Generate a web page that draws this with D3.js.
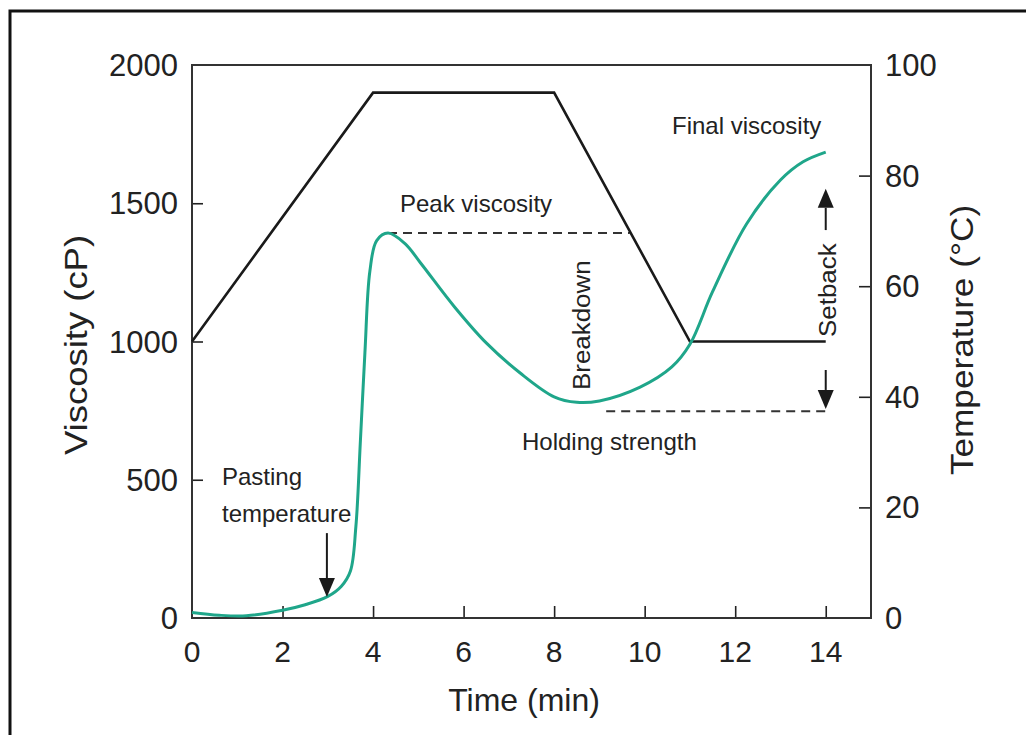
<!DOCTYPE html>
<html>
<head>
<meta charset="utf-8">
<script src="https://cdn.jsdelivr.net/npm/d3@7"></script>
<style>
  body { margin: 0; background: #fff; }
  svg { display: block; font-family: "Liberation Sans", Arial, sans-serif; }
</style>
</head>
<body>
<script>
// Data
var timeTicks = [2, 4, 6, 8, 10, 12, 14];
var timeLabels = [0, 2, 4, 6, 8, 10, 12, 14];
var viscTicks = [500, 1000, 1500];
var viscLabels = [0, 500, 1000, 1500, 2000];
var tempTicks = [20, 40, 60, 80];
var tempLabels = [0, 20, 40, 60, 80, 100];

// temperature profile (black)
var tempTime = [0, 4, 8, 11, 14];
var tempValues = [50, 95, 95, 50, 50];

// viscosity curve (green)
var viscTime = [0, 0.6, 1.2, 2, 2.5, 3, 3.3, 3.5, 3.62, 3.72, 3.82, 3.93, 4.08, 4.33, 4.7, 5.05, 5.8, 6.5, 7.25, 8.0, 8.5, 9.0, 9.9, 10.6, 11, 11.5, 12.25, 13, 13.5, 14];
var viscValues = [20, 10, 8, 28, 48, 78, 115, 170, 330, 640, 960, 1255, 1365, 1392, 1355, 1284, 1125, 995, 886, 800, 780, 785, 835, 908, 990, 1180, 1425, 1584, 1650, 1685];

// annotation values
var peakLevel = 1392, peakStart = 4.33, peakEnd = 9.67;
var holdLevel = 748, holdStart = 9.15, holdEnd = 14.05;

var width = 1026, height = 735;
var svg = d3.select("body").append("svg")
    .attr("width", width)
    .attr("height", height);

// outer frame
svg.append("rect")
    .attr("x", 10).attr("y", 11)
    .attr("width", 1040).attr("height", 760)
    .attr("fill", "none").attr("stroke", "#111").attr("stroke-width", 3);

var x = d3.scaleLinear().domain([0, 15]).range([192, 871]);
var yV = d3.scaleLinear().domain([0, 2000]).range([618, 65]);
var yT = d3.scaleLinear().domain([0, 100]).range([618, 65]);

var ink = "#222";

// ticks (inward)
svg.append("g")
    .attr("transform", "translate(0,618)")
    .call(d3.axisBottom(x).tickValues(timeTicks).tickSize(-12).tickFormat(""))
    .call(g => g.select(".domain").remove())
    .selectAll("line").attr("stroke", ink).attr("stroke-width", 1.6);

svg.append("g")
    .attr("transform", "translate(192,0)")
    .call(d3.axisLeft(yV).tickValues(viscTicks).tickSize(-11).tickFormat(""))
    .call(g => g.select(".domain").remove())
    .selectAll("line").attr("stroke", ink).attr("stroke-width", 1.6);

svg.append("g")
    .attr("transform", "translate(871,0)")
    .call(d3.axisRight(yT).tickValues(tempTicks).tickSize(-12).tickFormat(""))
    .call(g => g.select(".domain").remove())
    .selectAll("line").attr("stroke", ink).attr("stroke-width", 1.6);

// plot box
svg.append("rect")
    .attr("x", x(0)).attr("y", yV(2000))
    .attr("width", x(15) - x(0)).attr("height", yV(0) - yV(2000))
    .attr("fill", "none").attr("stroke", "#333").attr("stroke-width", 2);

// tick labels
svg.append("g").selectAll("text")
    .data(timeLabels).enter().append("text")
    .attr("x", d => x(d)).attr("y", 662)
    .attr("text-anchor", "middle")
    .attr("font-size", 30).attr("fill", ink)
    .text(d => d);

svg.append("g").selectAll("text")
    .data(viscLabels).enter().append("text")
    .attr("x", 178).attr("y", d => yV(d) + 11)
    .attr("text-anchor", "end")
    .attr("font-size", 31).attr("fill", ink)
    .text(d => d);

svg.append("g").selectAll("text")
    .data(tempLabels).enter().append("text")
    .attr("x", 885).attr("y", d => yT(d) + 11)
    .attr("text-anchor", "start")
    .attr("font-size", 31).attr("fill", ink)
    .text(d => d);

// axis titles
svg.append("text")
    .attr("x", 524).attr("y", 711)
    .attr("text-anchor", "middle")
    .attr("font-size", 32).attr("fill", ink)
    .text("Time (min)");

svg.append("text")
    .attr("transform", "translate(87,345) scale(1,1.14) rotate(-90)")
    .attr("text-anchor", "middle")
    .attr("font-size", 32).attr("fill", ink)
    .text("Viscosity (cP)");

svg.append("text")
    .attr("transform", "translate(973,340) scale(1,1.1) rotate(-90)")
    .attr("text-anchor", "middle")
    .attr("font-size", 32).attr("fill", ink)
    .text("Temperature (°C)");

// dashed reference lines
svg.append("line")
    .attr("x1", x(peakStart)).attr("x2", x(peakEnd))
    .attr("y1", yV(peakLevel)).attr("y2", yV(peakLevel))
    .attr("stroke", "#333").attr("stroke-width", 2).attr("stroke-dasharray", "9,6");

svg.append("line")
    .attr("x1", x(holdStart)).attr("x2", x(holdEnd))
    .attr("y1", yV(holdLevel)).attr("y2", yV(holdLevel))
    .attr("stroke", "#333").attr("stroke-width", 2).attr("stroke-dasharray", "9,6");

// temperature line
var tempLine = d3.line()
    .x((d, i) => x(tempTime[i]))
    .y(d => yT(d));

svg.append("path")
    .datum(tempValues)
    .attr("d", tempLine)
    .attr("fill", "none").attr("stroke", "#1a1a1a").attr("stroke-width", 2.6);

// viscosity curve
var viscLine = d3.line()
    .x((d, i) => x(viscTime[i]))
    .y(d => yV(d))
    .curve(d3.curveCatmullRom.alpha(0.5));

svg.append("path")
    .datum(viscValues)
    .attr("d", viscLine)
    .attr("fill", "none").attr("stroke", "#1fa68a").attr("stroke-width", 3);

// arrows: shaft + filled head, from v0 to tip v1 at time t
function drawArrow(t, v0, v1) {
    var px = x(t), py0 = yV(v0), py1 = yV(v1);
    var dir = py1 > py0 ? 1 : -1;
    var headH = 19, headW = 8;
    svg.append("line")
        .attr("x1", px).attr("x2", px)
        .attr("y1", py0).attr("y2", py1 - dir * headH)
        .attr("stroke", "#1a1a1a").attr("stroke-width", 2);
    svg.append("path")
        .attr("d", "M" + (px - headW) + "," + (py1 - dir * headH) +
                   "L" + (px + headW) + "," + (py1 - dir * headH) +
                   "L" + px + "," + py1 + "Z")
        .attr("fill", "#1a1a1a");
}

drawArrow(2.98, 307, 76);   // pasting temperature
drawArrow(14, 1403, 1552);  // setback up
drawArrow(14, 897, 756);    // setback down

// annotation labels
function label(txt, px, py, anchor) {
    svg.append("text")
        .attr("x", px).attr("y", py)
        .attr("text-anchor", anchor || "start")
        .attr("font-size", 24).attr("fill", ink)
        .text(txt);
}
label("Pasting", 222, 485);
label("temperature", 222, 522);
label("Peak viscosity", 400, 212);
label("Final viscosity", 672, 134);
label("Holding strength", 522, 450);

svg.append("text")
    .attr("transform", "translate(590,390) scale(1,1.08) rotate(-90)")
    .attr("font-size", 24).attr("fill", ink)
    .text("Breakdown");

svg.append("text")
    .attr("transform", "translate(836,337) scale(1,1.08) rotate(-90)")
    .attr("font-size", 24).attr("fill", ink)
    .text("Setback");
</script>
</body>
</html>
